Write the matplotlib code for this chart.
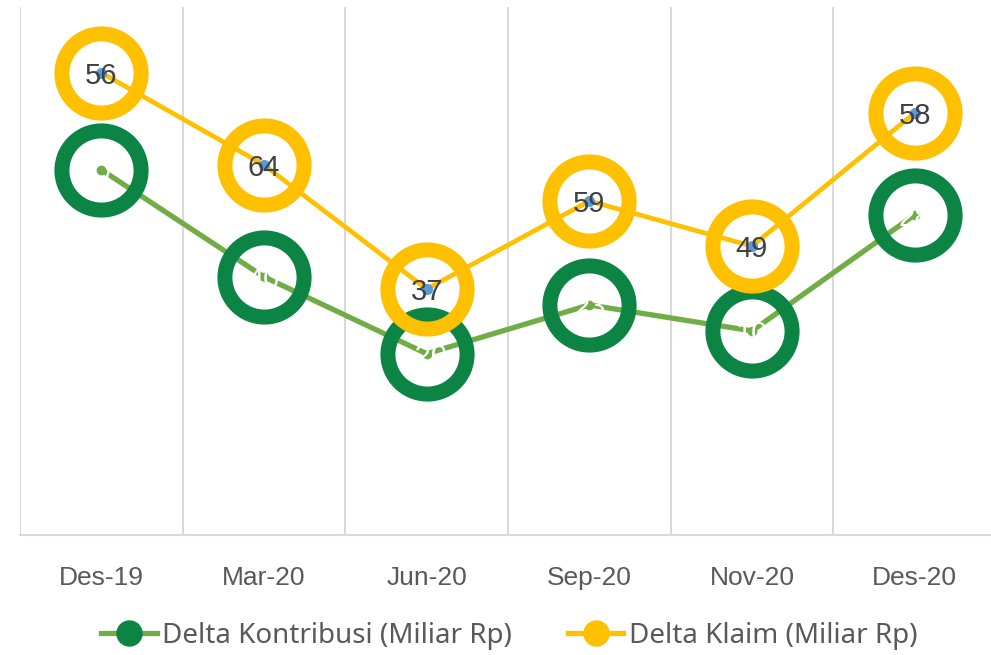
import matplotlib
matplotlib.use("Agg")
import matplotlib.pyplot as plt
from matplotlib.lines import Line2D

# data (vertical positions in chart units, 0 = baseline)
periods = ["Des-19", "Mar-20", "Jun-20", "Sep-20", "Nov-20", "Des-20"]
kontribusi = [68.9, 48.7, 34.2, 43.4, 38.5, 60.4]
klaim = [87.2, 69.8, 46.4, 63.0, 54.5, 79.6]
kontribusi_labels = ["17", "40", "-20", "23", "10", "28"]
klaim_labels = ["56", "64", "37", "59", "49", "58"]

GREEN_LINE = "#70AD47"
GREEN_RING = "#0B8444"
YELLOW = "#FFC000"
BLUE_DOT = "#5B9BD5"
GRID = "#D9D9D9"
TEXT = "#595959"

fig = plt.figure(figsize=(9.91, 6.55), dpi=100)
ax = fig.add_axes([20 / 991, 120 / 655, 976 / 991, 528 / 655])

x = list(range(len(periods)))
ax.set_xlim(-0.5, len(periods) - 0.5)
ax.set_ylim(0, 99.6)

# category boundaries as vertical grid lines
for b in range(len(periods) + 1):
    ax.axvline(b - 0.5, color=GRID, lw=1.5, zorder=0)

# green series
ax.plot(x, kontribusi, color=GREEN_LINE, lw=3.8, solid_capstyle="round", zorder=2)
ax.plot(x, kontribusi, ls="none", marker="o", ms=57, mfc="none",
        mec=GREEN_RING, mew=10.8, zorder=3)
ax.plot(x, kontribusi, ls="none", marker="o", ms=6, color=GREEN_LINE, zorder=3)
for xi, yi, lab in zip(x, kontribusi, kontribusi_labels):
    ax.text(xi, yi, lab, color="white", ha="center", va="center_baseline",
            fontsize=21, family="Liberation Sans", zorder=4)

# yellow series
ax.plot(x, klaim, color=YELLOW, lw=3.4, solid_capstyle="round", zorder=5)
ax.plot(x, klaim, ls="none", marker="o", ms=57, mfc="none",
        mec=YELLOW, mew=10.8, zorder=6)
ax.plot(x, klaim, ls="none", marker="o", ms=7, color=BLUE_DOT, zorder=6)
for xi, yi, lab in zip(x, klaim, klaim_labels):
    ax.text(xi, yi, lab, color="#404040", ha="center", va="center_baseline",
            fontsize=21, family="Liberation Sans", zorder=7)

ax.set_xticks(x)
ax.set_xticklabels(periods, fontsize=19, color=TEXT, family="Liberation Sans")
ax.tick_params(axis="x", length=0, pad=22)
ax.set_yticks([])
for side in ["top", "right", "left"]:
    ax.spines[side].set_visible(False)
ax.spines["bottom"].set_color(GRID)
ax.spines["bottom"].set_linewidth(1.5)

handles = [
    Line2D([], [], color=GREEN_LINE, lw=3.8, marker="o", ms=18,
           mfc=GREEN_RING, mec=GREEN_RING),
    Line2D([], [], color=YELLOW, lw=3.8, marker="o", ms=18,
           mfc=YELLOW, mec=YELLOW),
]
fig.legend(handles, ["Delta Kontribusi (Miliar Rp)", "Delta Klaim (Miliar Rp)"],
           loc="center", bbox_to_anchor=(0.514, 1 - 636 / 655), ncol=2,
           frameon=False, handlelength=2.0, handletextpad=0.2,
           columnspacing=2.0, prop={"family": "Noto Sans", "size": 20},
           labelcolor=TEXT)

fig.savefig("out.png", dpi=100)
